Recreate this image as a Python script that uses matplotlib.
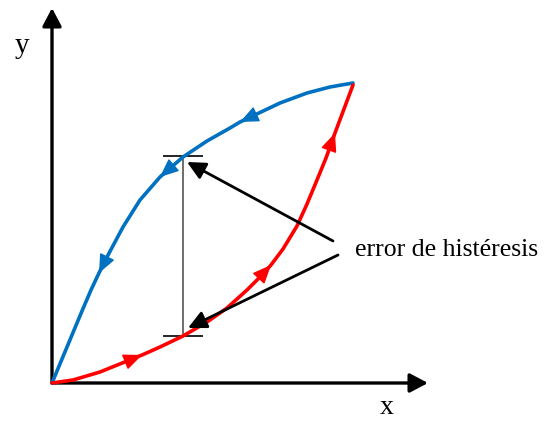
import matplotlib
matplotlib.use('Agg')
import matplotlib.pyplot as plt

# curva de carga (roja) y de descarga (azul)
red_x = [0, 21, 48, 90, 108, 131, 155, 175, 195, 207, 219, 231, 245, 255, 265, 274, 283, 292, 301]
red_y = [0, 3, 11, 28, 36, 47, 61, 75, 93, 105, 118, 134, 157, 179, 203, 225, 250, 274, 298]
blue_x = [301, 278, 255, 228, 188, 178, 155, 131, 108, 88, 71, 55, 47, 39, 30, 20, 10, 0]
blue_y = [300, 296, 290, 280, 261, 255, 242, 226, 206, 183, 156, 126, 110, 93, 72, 48, 24, 0]
red_arrows = [3, 10, 16]    # índices de la punta de flecha
blue_arrows = [4, 8, 12]

# barra del error de histéresis
err_x = 131
err_lo, err_hi = 47, 227
err_cap = 20

label = "error de histéresis"
label_pos = (303, 133)
arrow_tails = [(281, 142), (286, 128)]
arrow_tips = [(135, 221), (136, 55)]

RED = '#FF0000'
BLUE = '#0070C0'
plt.rcParams['font.family'] = ['Liberation Serif', 'DejaVu Serif']

fig = plt.figure(figsize=(5.45, 4.21), dpi=100)
ax = fig.add_axes([0, 0, 1, 1])
ax.set_xlim(-52, 493)
ax.set_ylim(-38, 383)
ax.axis('off')

# ejes con flecha
axis_style = dict(arrowstyle='-|>,head_length=0.55,head_width=0.29', color='black',
                  lw=2.4, mutation_scale=20, shrinkA=0, shrinkB=0)
ax.annotate('', xy=(376, 0), xytext=(0, 0), arrowprops=axis_style)
ax.annotate('', xy=(0, 375), xytext=(0, 0), arrowprops=axis_style)
ax.text(335, -24, 'x', fontsize=20, ha='center', va='center')
ax.text(-30, 337, 'y', fontsize=21, ha='center', va='center')

# curvas
ax.plot(blue_x, blue_y, color=BLUE, lw=2.6, solid_capstyle='round',
        solid_joinstyle='round', zorder=3)
ax.plot(red_x, red_y, color=RED, lw=2.6, solid_capstyle='round',
        solid_joinstyle='round', zorder=3)

def curve_arrows(xs, ys, idx, color):
    for i in idx:
        ax.annotate('', xy=(xs[i], ys[i]), xytext=(xs[i - 1], ys[i - 1]),
                    arrowprops=dict(arrowstyle='-|>,head_length=0.58,head_width=0.25',
                                    color=color, lw=1, mutation_scale=20,
                                    shrinkA=0, shrinkB=0), zorder=4)

curve_arrows(red_x, red_y, red_arrows, RED)
curve_arrows(blue_x, blue_y, blue_arrows, BLUE)

# barra de error
ax.vlines(err_x, err_lo, err_hi, color='#555555', lw=1.2, zorder=2)
ax.hlines([err_lo, err_hi], err_x - err_cap, err_x + err_cap, color='black', lw=1.2, zorder=2)

# anotación
ax.text(label_pos[0], label_pos[1], label, fontsize=18.5, ha='left', va='center')
for tail, tip in zip(arrow_tails, arrow_tips):
    ax.annotate('', xy=tip, xytext=tail,
                arrowprops=dict(arrowstyle='-|>,head_length=0.55,head_width=0.27',
                                color='black', lw=2, mutation_scale=20,
                                shrinkA=0, shrinkB=0), zorder=5)

fig.savefig('out.png', dpi=100)
